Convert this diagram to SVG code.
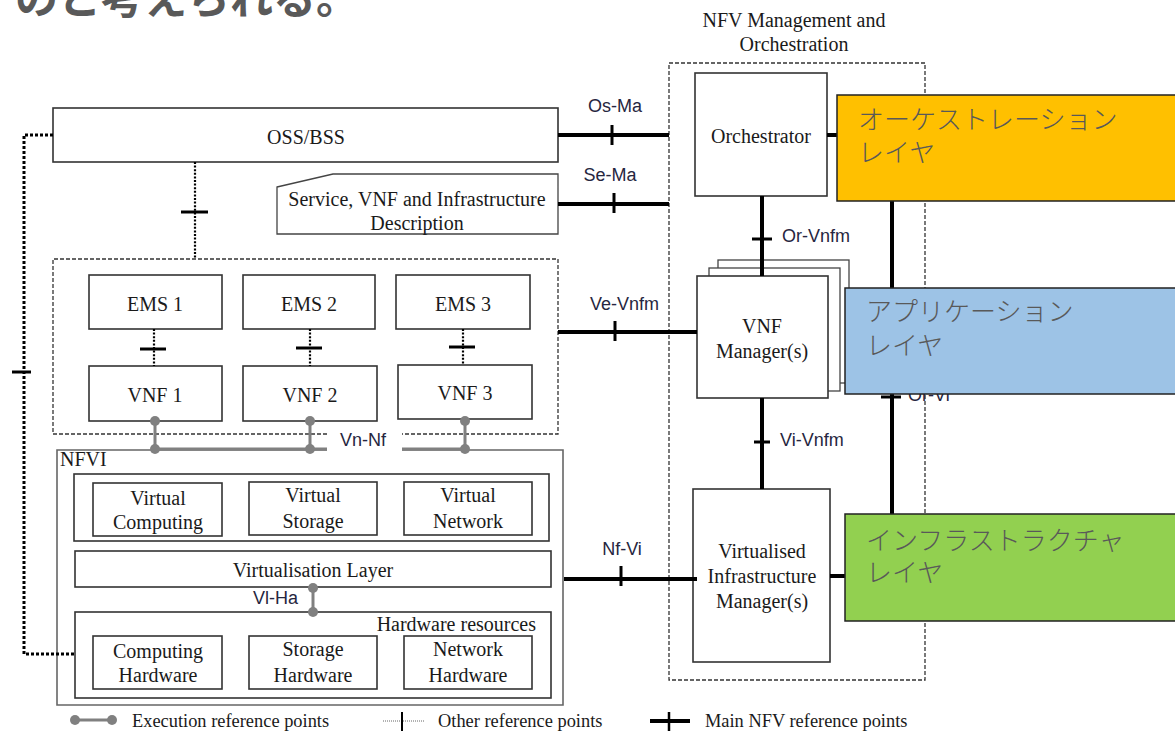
<svg xmlns="http://www.w3.org/2000/svg" width="1175" height="732" viewBox="0 0 1175 732">
<style>
.bg{fill:#fff}
.box{fill:#fff;stroke:#333;stroke-width:1.6}
.thin{fill:#fff;stroke:#444;stroke-width:1.3}
.ser{font-family:"Liberation Serif","Times New Roman",serif;font-size:20px;fill:#1a1a1a}
.c{text-anchor:middle}
.lbl{font-family:"Liberation Sans",Arial,sans-serif;font-size:18px;fill:#262640}
.jp{font-family:"Noto Sans CJK JP","Noto Sans",sans-serif;font-size:26px;font-weight:300;fill:#595959}
.main{stroke:#000;stroke-width:4;fill:none}
.tick{stroke:#000;stroke-width:3;fill:none}
.exe{stroke:#808080;stroke-width:3;fill:none}
.dot{fill:#808080}
.other{stroke:#000;stroke-width:3;stroke-dasharray:3 2;fill:none}
.other2{stroke:#000;stroke-width:2.2;stroke-dasharray:2 1.6;fill:none}
.dash{stroke:#333;stroke-width:1.3;stroke-dasharray:4 2;fill:none}
.layer{stroke:#222;stroke-width:1.5}
.leg{font-size:18.4px}
</style>
<rect class="bg" x="0" y="0" width="1175" height="732"/>

<text x="15" y="14" font-family="'Noto Sans CJK JP','Noto Sans',sans-serif" font-size="43" font-weight="bold" fill="#595959">のと考えられる。</text>

<g id="mano">
<rect class="dash" x="669" y="63" width="256" height="617"/>
<text class="ser c" x="794" y="27" font-size="20.4">NFV Management and</text>
<text class="ser c" x="794" y="51" font-size="20.4">Orchestration</text>
</g>

<g id="oss-bss">
<rect class="box" x="53" y="108" width="505" height="54"/>
<text class="ser c" x="306" y="144">OSS/BSS</text>
</g>

<g id="service-desc">
<polygon class="thin" points="277,187 333,174 558,174 558,234 277,234"/>
<text class="ser c" x="417" y="206" font-size="18.7">Service, VNF and Infrastructure</text>
<text class="ser c" x="417" y="230" font-size="18.7">Description</text>
</g>

<g id="vnf-domain">
<path class="dash" d="M327,434 H53 V259 H558 V434 H402"/>
</g>

<g id="ems1"><rect class="box" x="89" y="275" width="133" height="54"/><text class="ser c" x="155" y="311">EMS 1</text></g>
<g id="ems2"><rect class="box" x="243" y="275" width="132" height="54"/><text class="ser c" x="309" y="311">EMS 2</text></g>
<g id="ems3"><rect class="box" x="396" y="275" width="134" height="54"/><text class="ser c" x="463" y="311">EMS 3</text></g>
<g id="vnf1"><rect class="box" x="89" y="366" width="133" height="55"/><text class="ser c" x="155" y="402">VNF 1</text></g>
<g id="vnf2"><rect class="box" x="243" y="366" width="134" height="55"/><text class="ser c" x="310" y="402">VNF 2</text></g>
<g id="vnf3"><rect class="box" x="398" y="365" width="134" height="54"/><text class="ser c" x="465" y="400">VNF 3</text></g>

<g id="nfvi">
<path d="M327,450 H57 V705 H563 V450 H402" fill="none" stroke="#666" stroke-width="1.6"/>
<text class="ser" x="60" y="466">NFVI</text>
</g>
<g id="virtual-resources">
<rect class="box" x="74" y="474" width="475" height="67"/>
</g>
<g id="virtual-computing"><rect class="box" x="93" y="483" width="129" height="53"/><text class="ser c" x="158" y="505">Virtual</text><text class="ser c" x="158" y="529">Computing</text></g>
<g id="virtual-storage"><rect class="box" x="249" y="482" width="128" height="53"/><text class="ser c" x="313" y="502">Virtual</text><text class="ser c" x="313" y="528">Storage</text></g>
<g id="virtual-network"><rect class="box" x="404" y="482" width="128" height="53"/><text class="ser c" x="468" y="502">Virtual</text><text class="ser c" x="468" y="528">Network</text></g>
<g id="virtualisation-layer"><rect class="box" x="75" y="551" width="476" height="36"/><text class="ser c" x="313" y="577">Virtualisation Layer</text></g>
<g id="hardware-resources"><rect class="box" x="75" y="612" width="476" height="86"/><text class="ser" x="536" y="631" text-anchor="end">Hardware resources</text></g>
<g id="computing-hw"><rect class="box" x="93" y="636" width="129" height="53"/><text class="ser c" x="158" y="658">Computing</text><text class="ser c" x="158" y="682">Hardware</text></g>
<g id="storage-hw"><rect class="box" x="249" y="636" width="128" height="53"/><text class="ser c" x="313" y="656">Storage</text><text class="ser c" x="313" y="682">Hardware</text></g>
<g id="network-hw"><rect class="box" x="404" y="636" width="128" height="53"/><text class="ser c" x="468" y="656">Network</text><text class="ser c" x="468" y="682">Hardware</text></g>

<g id="orchestrator"><rect class="box" x="695" y="73" width="132" height="123"/><text class="ser c" x="761" y="143">Orchestrator</text></g>

<g id="vnf-manager">
<rect class="thin" x="718" y="260" width="131" height="123"/>
<rect class="thin" x="709" y="268" width="131" height="123"/>
<rect class="box" x="697" y="276" width="131" height="122"/>
<text class="ser c" x="762" y="333">VNF</text>
<text class="ser c" x="762" y="358">Manager(s)</text>
</g>

<g id="vim"><rect class="box" x="693" y="489" width="137" height="173"/><text class="ser c" x="762" y="558">Virtualised</text><text class="ser c" x="762" y="583">Infrastructure</text><text class="ser c" x="762" y="608">Manager(s)</text></g>

<g id="connectors">
<line class="main" x1="558" y1="135" x2="669" y2="135"/><line class="tick" x1="612" y1="125" x2="612" y2="145"/>
<text class="lbl c" x="615" y="112">Os-Ma</text>
<line class="main" x1="558" y1="204" x2="669" y2="204"/><line class="tick" x1="614" y1="193" x2="614" y2="213"/>
<text class="lbl c" x="610" y="181">Se-Ma</text>
<line class="main" x1="762" y1="196" x2="762" y2="276"/><line class="tick" x1="752" y1="239" x2="772" y2="239"/>
<text class="lbl" x="782" y="242">Or-Vnfm</text>
<line class="main" x1="558" y1="332" x2="697" y2="332"/><line class="tick" x1="615" y1="321" x2="615" y2="341"/>
<text class="lbl" x="590" y="310">Ve-Vnfm</text>
<line class="main" x1="762" y1="398" x2="762" y2="489"/><line class="tick" x1="754" y1="442" x2="770" y2="442"/>
<text class="lbl" x="780" y="446">Vi-Vnfm</text>
<line class="main" x1="564" y1="579" x2="697" y2="579" stroke-width="5"/><line class="tick" x1="621" y1="566" x2="621" y2="586"/>
<text class="lbl c" x="622" y="555">Nf-Vi</text>
<line class="main" x1="892" y1="201" x2="892" y2="514"/><line class="tick" x1="881" y1="397" x2="901" y2="397" stroke-width="4"/>
<text class="lbl" x="908" y="401">Or-Vi</text>
<line class="main" x1="827" y1="135" x2="837" y2="135" stroke-width="3"/>
<line class="main" x1="830" y1="576" x2="845" y2="576" stroke-width="3"/>
<path class="other" d="M53,135 H24 V654 H75"/>
<line class="tick" x1="12" y1="372" x2="31" y2="372" stroke-width="2.5"/>
<line class="other2" x1="195" y1="162" x2="195" y2="259"/>
<line class="tick" x1="181" y1="212" x2="208" y2="212"/>
<line class="other2" x1="154" y1="329" x2="154" y2="366" stroke-width="2.6"/><line class="tick" x1="140" y1="349" x2="166" y2="349"/>
<line class="other2" x1="310" y1="329" x2="310" y2="366" stroke-width="2.6"/><line class="tick" x1="296" y1="348" x2="322" y2="348"/>
<line class="other2" x1="463" y1="329" x2="463" y2="365" stroke-width="2.6"/><line class="tick" x1="449" y1="347" x2="475" y2="347"/>
<path class="exe" d="M155,421 V449 M310,421 V449 M465,419 V449 M155,449 H327 M402,449 H465"/>
<circle class="dot" cx="155" cy="421" r="5"/><circle class="dot" cx="155" cy="449" r="5"/>
<circle class="dot" cx="310" cy="421" r="5"/><circle class="dot" cx="310" cy="449" r="5"/>
<circle class="dot" cx="465" cy="421" r="5"/><circle class="dot" cx="465" cy="449" r="5"/>
<text class="lbl c" x="363" y="446">Vn-Nf</text>
<line class="exe" x1="313" y1="588" x2="313" y2="612"/>
<circle class="dot" cx="313" cy="588" r="5"/><circle class="dot" cx="313" cy="612" r="5"/>
<text class="lbl" x="253" y="604">Vl-Ha</text>
</g>

<g id="layer-orchestration">
<rect class="layer" x="837" y="95" width="345" height="106" fill="#FFC000"/>
<text class="jp" x="858" y="129">オーケストレーション</text>
<text class="jp" x="858" y="162">レイヤ</text>
</g>
<g id="layer-application">
<rect class="layer" x="845" y="288" width="337" height="106" fill="#9DC3E6"/>
<text class="jp" x="866" y="321">アプリケーション</text>
<text class="jp" x="866" y="355">レイヤ</text>
</g>
<g id="layer-infrastructure">
<rect class="layer" x="845" y="514" width="337" height="107" fill="#92D050"/>
<text class="jp" x="866" y="550">インフラストラクチャ</text>
<text class="jp" x="866" y="582">レイヤ</text>
</g>

<g id="legend">
<line class="exe" x1="75" y1="720" x2="112" y2="720"/>
<circle class="dot" cx="75" cy="720" r="5"/><circle class="dot" cx="112" cy="720" r="5"/>
<text class="ser leg" x="132" y="727">Execution reference points</text>
<line x1="383" y1="721" x2="425" y2="721" stroke="#666" stroke-width="1" stroke-dasharray="1 1"/>
<line x1="402" y1="712" x2="402" y2="731" stroke="#000" stroke-width="2"/>
<text class="ser leg" x="438" y="727">Other reference points</text>
<line x1="650" y1="721" x2="690" y2="721" stroke="#000" stroke-width="4"/>
<line x1="669" y1="712" x2="669" y2="731" stroke="#000" stroke-width="2.5"/>
<text class="ser leg" x="705" y="727">Main NFV reference points</text>
</g>
</svg>
